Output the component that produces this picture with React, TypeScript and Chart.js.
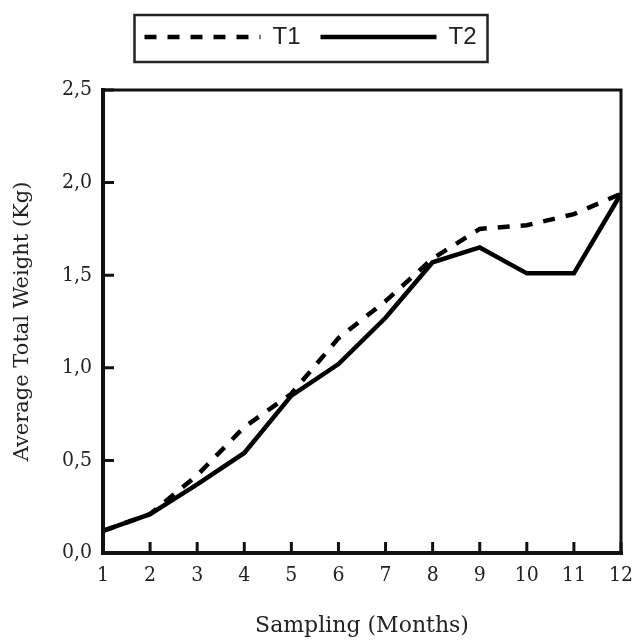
import React, { useEffect, useRef } from 'react';
import { Chart, registerables } from 'chart.js';

Chart.register(...registerables);

const months = [1, 2, 3, 4, 5, 6, 7, 8, 9, 10, 11, 12];
const t1Values = [0.12, 0.21, 0.42, 0.68, 0.86, 1.16, 1.36, 1.59, 1.75, 1.77, 1.83, 1.94];
const t2Values = [0.12, 0.21, 0.37, 0.54, 0.85, 1.02, 1.27, 1.57, 1.65, 1.51, 1.51, 1.94];
const seriesNames = ['T1', 'T2'];
const seriesDash = [[12, 11], []];
const yTickValues = [0, 0.5, 1.0, 1.5, 2.0, 2.5];
const xTitle = 'Sampling (Months)';
const yTitle = 'Average Total Weight (Kg)';

const INK = '#111';
const TEXT = '#222';

const framePlugin = {
  id: 'frameAndTicks',
  afterDraw(chart: any) {
    const { ctx, chartArea: a, scales } = chart;
    ctx.save();
    ctx.strokeStyle = INK;
    ctx.lineCap = 'square';
    ctx.lineWidth = 3;
    ctx.beginPath();
    ctx.moveTo(a.left, a.top);
    ctx.lineTo(a.right, a.top);
    ctx.lineTo(a.right, a.bottom);
    ctx.stroke();
    ctx.lineWidth = 4;
    ctx.beginPath();
    ctx.moveTo(a.left, a.top);
    ctx.lineTo(a.left, a.bottom);
    ctx.lineTo(a.right, a.bottom);
    ctx.stroke();
    ctx.lineCap = 'butt';
    ctx.lineWidth = 3;
    ctx.beginPath();
    scales.y.ticks.forEach((t: any) => {
      const y = scales.y.getPixelForValue(t.value);
      ctx.moveTo(a.left, y);
      ctx.lineTo(a.left + 11, y);
    });
    scales.x.ticks.forEach((t: any) => {
      const x = scales.x.getPixelForValue(t.value);
      ctx.moveTo(x, a.bottom);
      ctx.lineTo(x, a.bottom - 11);
    });
    ctx.stroke();

    const lg = chart.legend;
    if (lg && lg.legendHitBoxes && lg.legendHitBoxes.length) {
      const hb = lg.legendHitBoxes;
      const l = Math.min(...hb.map((h: any) => h.left)) - 10;
      const r = Math.max(...hb.map((h: any) => h.left + h.width)) + 11;
      const t = Math.min(...hb.map((h: any) => h.top)) - 10;
      const b = Math.max(...hb.map((h: any) => h.top + h.height)) + 13;
      ctx.lineWidth = 2.5;
      ctx.strokeStyle = '#222';
      ctx.strokeRect(l, t, r - l, b - t);
    }
    ctx.restore();
  },
};

export default function App() {
  const ref = useRef<HTMLCanvasElement | null>(null);

  useEffect(() => {
    if (!ref.current) return;
    const serif = "'DejaVu Serif Condensed', 'DejaVu Serif', serif";
    const chart = new Chart(ref.current, {
      type: 'line',
      data: {
        datasets: [
          {
            label: seriesNames[0],
            data: months.map((m, i) => ({ x: m, y: t1Values[i] })),
            borderColor: '#000',
            backgroundColor: '#000',
            borderWidth: 4.5,
            borderDash: seriesDash[0],
            pointRadius: 0,
            tension: 0,
            fill: false,
          },
          {
            label: seriesNames[1],
            data: months.map((m, i) => ({ x: m, y: t2Values[i] })),
            borderColor: '#000',
            backgroundColor: '#000',
            borderWidth: 4.5,
            borderDash: seriesDash[1],
            pointRadius: 0,
            tension: 0,
            fill: false,
          },
        ],
      },
      options: {
        responsive: false,
        animation: false,
        layout: { padding: { left: 0, right: 14, top: 5, bottom: 0 } },
        plugins: {
          tooltip: { enabled: false },
          subtitle: {
            display: true,
            text: ' ',
            position: 'top',
            weight: 500,
            font: { size: 10, lineHeight: 1.2 },
            padding: { top: 19, bottom: 0 },
          },
          legend: {
            display: true,
            position: 'top',
            labels: {
              usePointStyle: true,
              pointStyle: 'line',
              pointStyleWidth: 116,
              padding: 20,
              color: TEXT,
              font: { family: "'Liberation Sans Narrow', 'Liberation Sans', Arial, sans-serif", size: 24 },
              generateLabels: (ch: any) =>
                ch.data.datasets.map((ds: any, i: number) => ({
                  text: ds.label,
                  fillStyle: '#000',
                  strokeStyle: '#000',
                  lineWidth: 4.5,
                  lineDash: ds.borderDash || [],
                  lineCap: 'butt',
                  pointStyle: 'line',
                  fontColor: TEXT,
                  hidden: false,
                  datasetIndex: i,
                })),
            },
          },
        },
        scales: {
          x: {
            type: 'linear',
            min: 1,
            max: 12,
            grid: { display: false, drawTicks: false },
            border: { display: false },
            ticks: {
              stepSize: 1,
              padding: 10,
              color: TEXT,
              font: { family: serif, size: 21 },
              callback: (v: any) => String(v),
            },
            title: {
              display: true,
              text: xTitle,
              color: TEXT,
              font: { family: "'DejaVu Serif', serif", size: 22 },
              padding: { top: 0, bottom: 3 },
            },
            afterFit: (s: any) => {
              s.height = 89;
              s.paddingRight = 14;
            },
          },
          y: {
            type: 'linear',
            min: 0,
            max: 2.5,
            grid: { display: false, drawTicks: false },
            border: { display: false },
            afterBuildTicks: (s: any) => {
              s.ticks = yTickValues.map((v) => ({ value: v }));
            },
            ticks: {
              padding: 11,
              color: TEXT,
              font: { family: serif, size: 21 },
              callback: (v: any) => Number(v).toFixed(1).replace('.', ','),
            },
            title: {
              display: true,
              text: yTitle,
              color: TEXT,
              font: { family: "'DejaVu Serif', serif", size: 21 },
              padding: { top: 10, bottom: 0 },
            },
            afterFit: (s: any) => {
              s.width = 103;
            },
          },
        },
      },
      plugins: [framePlugin],
    } as any);
    return () => chart.destroy();
  }, []);

  return (
    <div style={{ position: 'absolute', left: 0, top: 0, width: 635, height: 642, background: '#fff' }}>
      <canvas ref={ref} width={635} height={642} style={{ display: 'block' }} />
    </div>
  );
}
